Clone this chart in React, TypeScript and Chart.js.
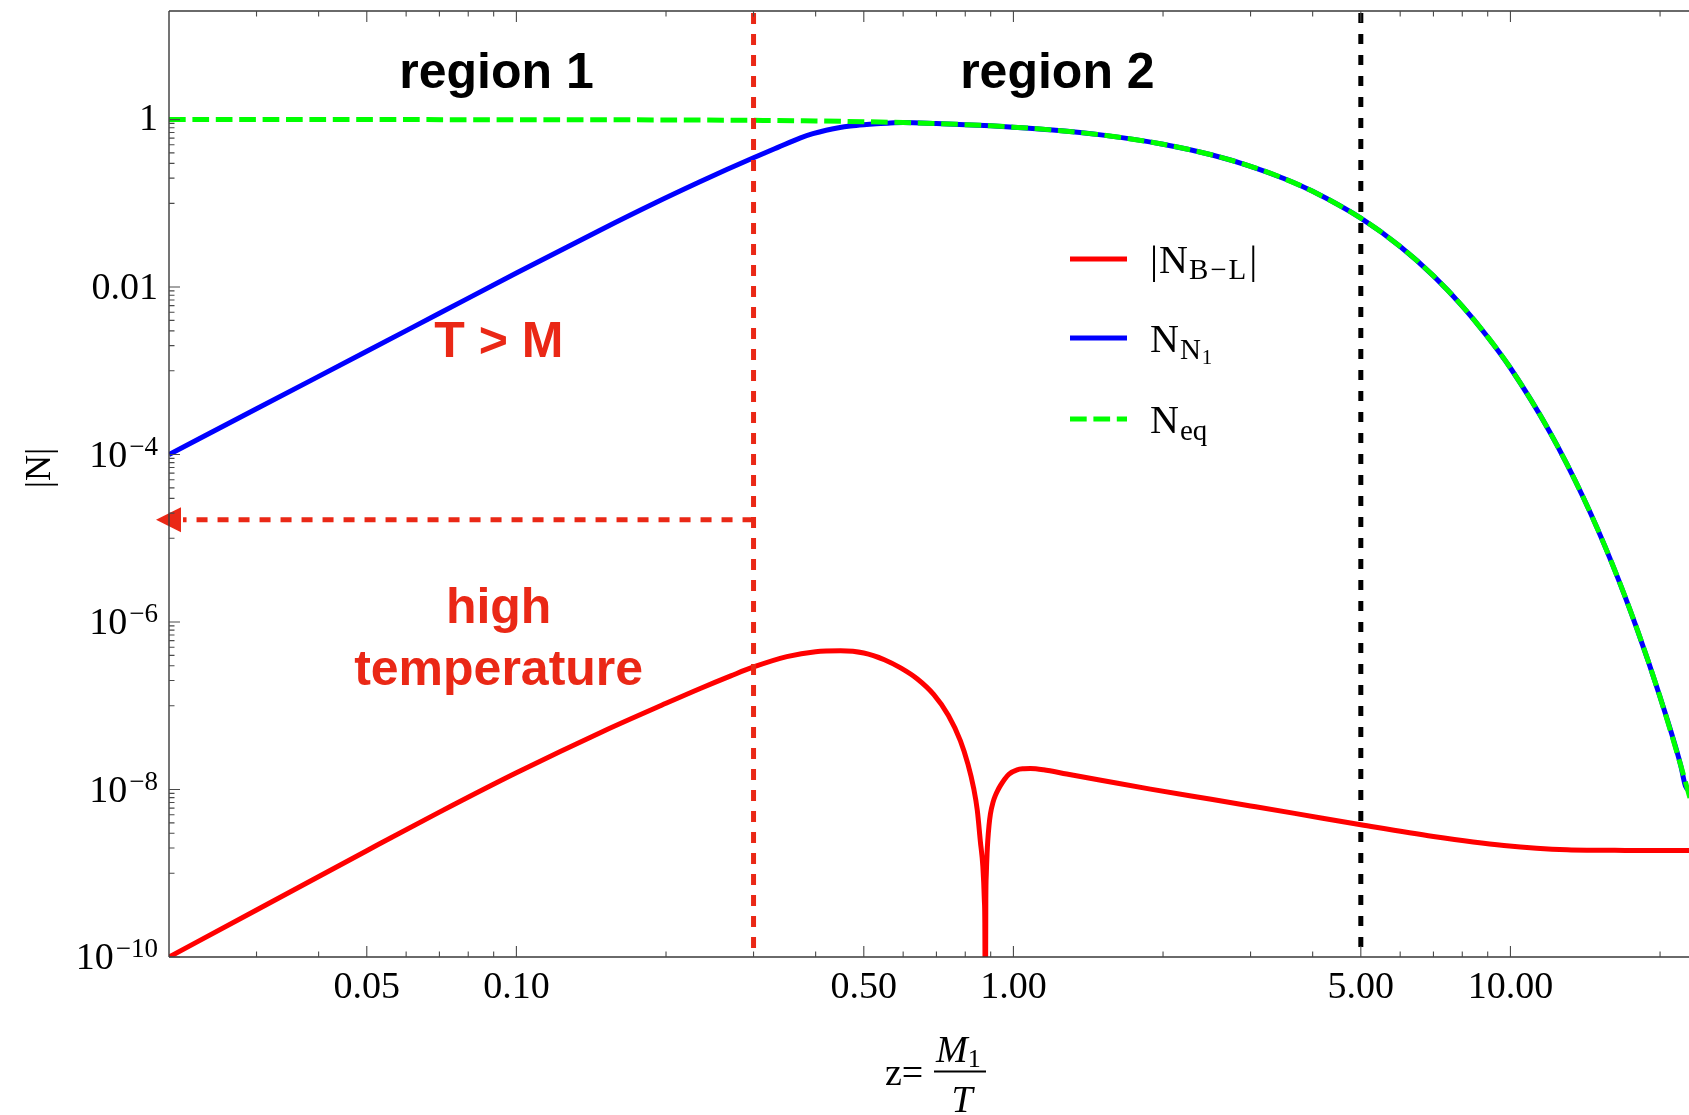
import React, { useEffect, useRef } from 'react';
import { Chart, registerables } from 'chart.js';

Chart.register(...registerables);

const CANVAS_W = 1689;
const CANVAS_H = 1115;

// ---- data (z = M1/T) ----
// |N_{B-L}|
const zBL = [0.02, 0.03, 0.05, 0.07, 0.1, 0.15, 0.2, 0.235, 0.27, 0.3, 0.35, 0.4, 0.449, 0.5, 0.55, 0.593, 0.64, 0.691, 0.74, 0.782, 0.81, 0.832, 0.846, 0.858, 0.868, 0.874, 0.876, 0.878, 0.88, 0.882, 0.885, 0.888, 0.893, 0.899, 0.91, 0.92, 0.93, 0.942, 0.96, 0.98, 1.017, 1.05, 1.082, 1.15, 1.28, 1.5, 1.887, 2.5, 3, 3.68, 5, 7, 9.7, 13, 17, 23];
const nBL = [1.0e-10, 3.64e-10, 1.86e-9, 5.37e-9, 1.585e-8, 5.01e-8, 1.07e-7, 1.62e-7, 2.275e-7, 2.91e-7, 3.87e-7, 4.43e-7, 4.53e-7, 4.27e-7, 3.55e-7, 2.83e-7, 2.1e-7, 1.365e-7, 7.66e-8, 3.84e-8, 2.01e-8, 1.03e-8, 5.62e-9, 2.4e-9, 1.2e-9, 4.8e-10, 2.5e-10, 1e-11, 4.9e-10, 9.8e-10, 1.7e-9, 2.45e-9, 3.7e-9, 5.13e-9, 7.08e-9, 8.51e-9, 9.77e-9, 1.12e-8, 1.33e-8, 1.53e-8, 1.72e-8, 1.77e-8, 1.78e-8, 1.72e-8, 1.53e-8, 1.29e-8, 1.01e-8, 7.64e-9, 6.37e-9, 5.19e-9, 3.8e-9, 2.75e-9, 2.15e-9, 1.91e-9, 1.875e-9, 1.87e-9];

// N_{N1}
const zN1 = [0.02, 0.03, 0.05, 0.07, 0.1, 0.147, 0.19, 0.234, 0.265, 0.3, 0.335, 0.373, 0.395, 0.42, 0.445, 0.47, 0.5, 0.53, 0.565, 0.6, 0.7, 0.8, 0.9, 1, 1.2, 1.5, 2, 2.5, 3, 3.5, 4, 5, 6, 7, 8, 9, 10, 12, 14, 16, 18, 20, 22, 22.5, 23];
const nN1 = [1.0e-4, 3.52e-4, 1.71e-3, 4.86e-3, 1.47e-2, 0.0474, 0.1007, 0.1805, 0.2531, 0.35, 0.463, 0.606, 0.679, 0.747, 0.799, 0.837, 0.868, 0.891, 0.911, 0.92, 0.897, 0.870, 0.842, 0.8125, 0.751, 0.657, 0.508, 0.380, 0.277, 0.198, 0.139, 0.0664, 0.0305, 0.0136, 0.00593, 0.00254, 0.00108, 1.86e-4, 3.11e-5, 5.06e-6, 8.07e-7, 1.27e-7, 1.96e-8, 1.1e-8, 9.5e-9];

// N_eq
const zEq = [0.02, 0.05, 0.1, 0.2, 0.3, 0.4, 0.5, 0.6, 0.7, 0.8, 0.9, 1, 1.2, 1.5, 2, 2.5, 3, 3.5, 4, 5, 6, 7, 8, 9, 10, 12, 14, 16, 18, 20, 22, 23];
const nEq = [1.0, 0.9994, 0.9975, 0.990, 0.979, 0.963, 0.944, 0.922, 0.897, 0.870, 0.842, 0.8125, 0.751, 0.657, 0.508, 0.380, 0.277, 0.198, 0.139, 0.0664, 0.0305, 0.0136, 0.00593, 0.00254, 0.00108, 1.86e-4, 3.11e-5, 5.06e-6, 8.07e-7, 1.27e-7, 1.96e-8, 7.7e-9];

// ---- axes ----
const X_MIN = 0.02;
const X_MAX = 22.87;
const Y_MIN = 1e-10;
const Y_MAX = 19.8;

const xLabelValues = [0.05, 0.1, 0.5, 1, 5, 10];
const xLabelTexts = ['0.05', '0.10', '0.50', '1.00', '5.00', '10.00'];
const xMinorValues = [0.03, 0.04, 0.06, 0.07, 0.08, 0.09, 0.2, 0.3, 0.4, 0.6, 0.7, 0.8, 0.9, 2, 3, 4, 6, 7, 8, 9, 20];
const yLabelExponents = [0, -2, -4, -6, -8, -10];
const yLabelBase = ['1', '0.01', '10', '10', '10', '10'];
const yLabelSup = ['', '', '\u22124', '\u22126', '\u22128', '\u221210'];
const yMinorMultipliers = [1, 2, 3, 4, 5, 6, 7, 8, 9];

// ---- reference lines / annotations ----
const regionBoundaryZ = 0.3;
const washoutZ = 5;
const arrowLevelN = 1.66e-5;

const annotTexts = ['region 1', 'region 2', 'T > M', 'high', 'temperature'];
const annotZ = [0.0912, 1.226, 0.0922, 0.0921, 0.0921];
const annotN = [2.385, 2.385, 1.46e-3, 9.7e-7, 1.76e-7];
const annotIsRed = [false, false, true, true, true];

const SERIF = '"Liberation Serif", "Times New Roman", serif';
const SANS = '"Liberation Sans", Arial, Helvetica, sans-serif';
const DASH_RED = 'rgb(234,40,22)';

type Run = { text: string; font: string; dy?: number; gap?: number };

function drawRuns(ctx: CanvasRenderingContext2D, x: number, baseline: number, runs: Run[]) {
  let cx = x;
  ctx.textAlign = 'left';
  ctx.textBaseline = 'alphabetic';
  for (const r of runs) {
    ctx.font = r.font;
    ctx.fillText(r.text, cx, baseline + (r.dy || 0));
    cx += ctx.measureText(r.text).width + (r.gap || 0);
  }
  return cx;
}

const overlayPlugin = {
  id: 'overlay',
  beforeDraw(chart: any) {
    const { ctx } = chart;
    ctx.save();
    ctx.fillStyle = '#ffffff';
    ctx.fillRect(0, 0, chart.width, chart.height);
    ctx.restore();
  },
  afterDatasetsDraw(chart: any) {
    const ctx: CanvasRenderingContext2D = chart.ctx;
    const ca = chart.chartArea;
    const xs = chart.scales.x;
    const ys = chart.scales.y;
    ctx.save();

    // vertical dashed lines
    ctx.lineWidth = 5;
    ctx.lineCap = 'butt';
    const xb = xs.getPixelForValue(regionBoundaryZ);
    ctx.strokeStyle = DASH_RED;
    ctx.setLineDash([11, 10]);
    ctx.beginPath();
    ctx.moveTo(xb, ca.top + 2);
    ctx.lineTo(xb, ca.bottom);
    ctx.stroke();

    const xw = xs.getPixelForValue(washoutZ);
    ctx.strokeStyle = '#000000';
    ctx.setLineDash([10, 11]);
    ctx.beginPath();
    ctx.moveTo(xw, ca.top + 2);
    ctx.lineTo(xw, ca.bottom);
    ctx.stroke();

    // horizontal arrow
    const ya = ys.getPixelForValue(arrowLevelN);
    ctx.strokeStyle = DASH_RED;
    ctx.setLineDash([11, 10]);
    ctx.beginPath();
    ctx.moveTo(xb, ya);
    ctx.lineTo(ca.left + 14, ya);
    ctx.stroke();
    ctx.setLineDash([]);
    ctx.fillStyle = DASH_RED;
    ctx.beginPath();
    ctx.moveTo(ca.left - 13, ya);
    ctx.lineTo(ca.left + 12, ya - 12.5);
    ctx.lineTo(ca.left + 12, ya + 12.5);
    ctx.closePath();
    ctx.fill();

    // frame
    ctx.strokeStyle = '#3a3a3a';
    ctx.lineWidth = 1.4;
    ctx.beginPath();
    ctx.moveTo(ca.left, ca.top);
    ctx.lineTo(ca.right + 2, ca.top);
    ctx.moveTo(ca.left, ca.top);
    ctx.lineTo(ca.left, ca.bottom);
    ctx.moveTo(ca.left, ca.bottom);
    ctx.lineTo(ca.right + 2, ca.bottom);
    ctx.stroke();

    // ticks
    ctx.strokeStyle = '#4a4a4a';
    ctx.lineWidth = 1.1;
    ctx.beginPath();
    const xTick = (v: number, len: number) => {
      const px = xs.getPixelForValue(v);
      ctx.moveTo(px, ca.bottom);
      ctx.lineTo(px, ca.bottom - len);
      ctx.moveTo(px, ca.top);
      ctx.lineTo(px, ca.top + len);
    };
    xLabelValues.forEach((v) => xTick(v, 11));
    xMinorValues.forEach((v) => xTick(v, 5.5));
    const yTick = (v: number, len: number) => {
      if (v < Y_MIN * 0.999 || v > Y_MAX) return;
      const py = ys.getPixelForValue(v);
      ctx.moveTo(ca.left, py);
      ctx.lineTo(ca.left + len, py);
    };
    yLabelExponents.forEach((k) => {
      yTick(Math.pow(10, k), 11);
      if (k > -10) yMinorMultipliers.forEach((m) => yTick(m * Math.pow(10, k - 1), 5.5));
    });
    ctx.stroke();

    // x tick labels
    ctx.fillStyle = '#000000';
    ctx.font = `38px ${SERIF}`;
    ctx.textAlign = 'center';
    ctx.textBaseline = 'alphabetic';
    xLabelValues.forEach((v, i) => {
      ctx.fillText(xLabelTexts[i], xs.getPixelForValue(v), ca.bottom + 41);
    });

    // y tick labels
    const rightEdge = ca.left - 11;
    yLabelExponents.forEach((k, i) => {
      const py = ys.getPixelForValue(Math.pow(10, k));
      ctx.textAlign = 'right';
      let xr = rightEdge;
      if (yLabelSup[i]) {
        ctx.font = `27px ${SERIF}`;
        ctx.fillText(yLabelSup[i], xr, py);
        xr -= ctx.measureText(yLabelSup[i]).width + 2;
      }
      ctx.font = `38px ${SERIF}`;
      ctx.fillText(yLabelBase[i], xr, py + (k === 0 ? 10 : 12));
    });

    // y axis title |N|
    ctx.save();
    ctx.translate(41, 468);
    ctx.rotate(-Math.PI / 2);
    ctx.font = `36px ${SERIF}`;
    ctx.textAlign = 'center';
    ctx.textBaseline = 'middle';
    ctx.fillText('|N|', 0, 0);
    ctx.restore();

    // x axis title z = M1 / T
    drawRuns(ctx, 885, 1085, [{ text: 'z=', font: `38px ${SERIF}` }]);
    drawRuns(ctx, 936, 1062, [
      { text: 'M', font: `italic 38px ${SERIF}` },
      { text: '1', font: `26px ${SERIF}`, dy: 5 },
    ]);
    ctx.strokeStyle = '#000';
    ctx.lineWidth = 2;
    ctx.beginPath();
    ctx.moveTo(934, 1071.5);
    ctx.lineTo(986, 1071.5);
    ctx.stroke();
    ctx.font = `italic 38px ${SERIF}`;
    ctx.textAlign = 'center';
    ctx.fillText('T', 962, 1112);

    // annotations
    ctx.font = `bold 50px ${SANS}`;
    ctx.textAlign = 'center';
    ctx.textBaseline = 'alphabetic';
    annotTexts.forEach((t, i) => {
      ctx.fillStyle = annotIsRed[i] ? DASH_RED : '#000000';
      ctx.fillText(t, xs.getPixelForValue(annotZ[i]), ys.getPixelForValue(annotN[i]));
    });

    // legend
    const lx0 = 1070;
    const lx1 = 1127;
    const tx = 1150;
    const rows = [259, 338, 419];
    const legendColors = ['#ff0000', '#0000ff', '#00ff00'];
    rows.forEach((ry, i) => {
      ctx.strokeStyle = legendColors[i];
      ctx.lineWidth = 5;
      ctx.setLineDash(i === 2 ? [16.7, 6.7] : []);
      ctx.beginPath();
      ctx.moveTo(lx0, ry);
      ctx.lineTo(lx1, ry);
      ctx.stroke();
    });
    ctx.setLineDash([]);
    ctx.fillStyle = '#000000';
    const mainF = `40px ${SERIF}`;
    const subF = `29px ${SERIF}`;
    const subsubF = `21px ${SERIF}`;
    drawRuns(ctx, tx, rows[0] + 14, [
      { text: '|', font: mainF, gap: 1 },
      { text: 'N', font: mainF, gap: 1 },
      { text: 'B', font: subF, dy: 6, gap: 2 },
      { text: '\u2212', font: subF, dy: 6, gap: 2 },
      { text: 'L', font: subF, dy: 6, gap: 3 },
      { text: '|', font: mainF },
    ]);
    drawRuns(ctx, tx, rows[1] + 14, [
      { text: 'N', font: mainF, gap: 1 },
      { text: 'N', font: subF, dy: 7, gap: 1 },
      { text: '1', font: subsubF, dy: 12 },
    ]);
    drawRuns(ctx, tx, rows[2] + 14, [
      { text: 'N', font: mainF, gap: 1 },
      { text: 'eq', font: subF, dy: 7 },
    ]);

    ctx.restore();
  },
};

const toPoints = (xs: number[], ys: number[]) => xs.map((x, i) => ({ x, y: ys[i] }));

export default function App() {
  const ref = useRef<HTMLCanvasElement>(null);

  useEffect(() => {
    if (!ref.current) return;
    const chart = new Chart(ref.current, {
      type: 'scatter',
      data: {
        datasets: [
          {
            label: 'N_eq',
            data: toPoints(zEq, nEq),
            showLine: true,
            borderColor: '#00ff00',
            backgroundColor: '#00ff00',
            borderWidth: 5,
            borderDash: [16.7, 6.7],
            pointRadius: 0,
            cubicInterpolationMode: 'monotone',
            order: 0,
          },
          {
            label: 'N_N1',
            data: toPoints(zN1, nN1),
            showLine: true,
            borderColor: '#0000ff',
            backgroundColor: '#0000ff',
            borderWidth: 5,
            pointRadius: 0,
            cubicInterpolationMode: 'monotone',
            order: 1,
          },
          {
            label: '|N_B-L|',
            data: toPoints(zBL, nBL),
            showLine: true,
            borderColor: '#ff0000',
            backgroundColor: '#ff0000',
            borderWidth: 5,
            pointRadius: 0,
            cubicInterpolationMode: 'monotone',
            order: 2,
          },
        ],
      } as any,
      options: {
        animation: false,
        responsive: false,
        events: [],
        layout: { padding: { left: 169, top: 11, right: 0, bottom: 158 } },
        plugins: { legend: { display: false }, tooltip: { enabled: false } },
        scales: {
          x: { type: 'logarithmic', min: X_MIN, max: X_MAX, display: false },
          y: { type: 'logarithmic', min: Y_MIN, max: Y_MAX, display: false },
        },
      } as any,
      plugins: [overlayPlugin],
    });
    return () => chart.destroy();
  }, []);

  return (
    <div style={{ position: 'fixed', left: 0, top: 0, width: CANVAS_W, height: CANVAS_H, background: '#fff' }}>
      <canvas ref={ref} width={CANVAS_W} height={CANVAS_H} style={{ display: 'block' }} />
    </div>
  );
}
